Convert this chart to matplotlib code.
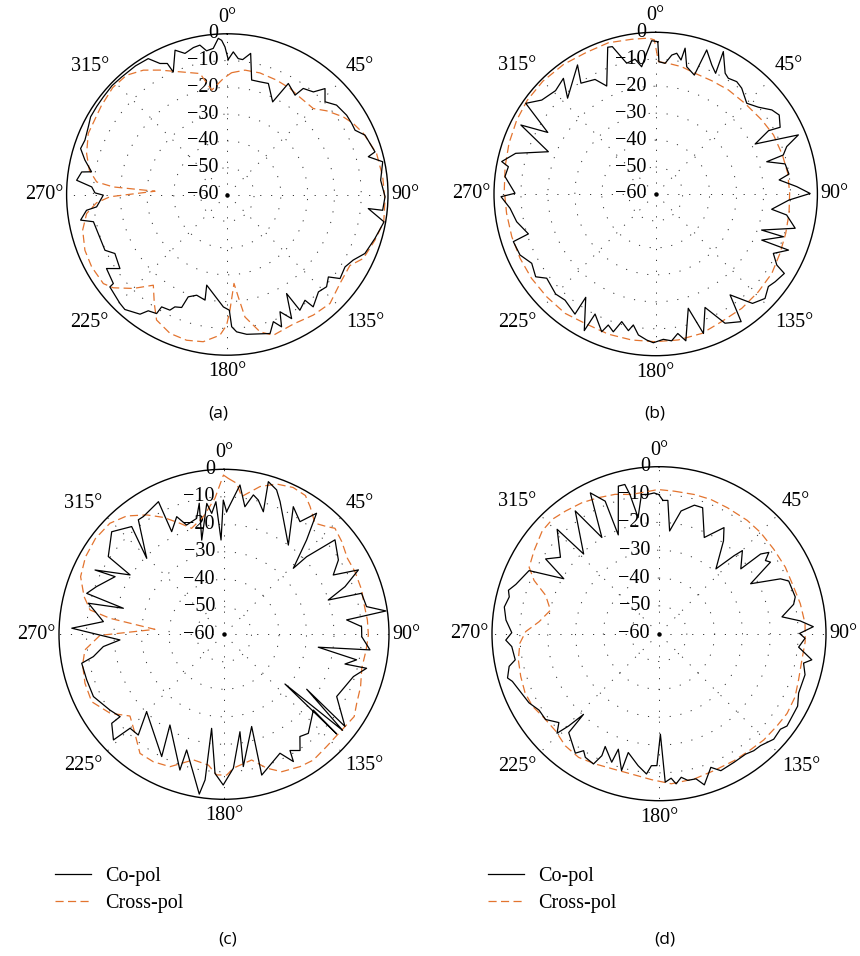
import numpy as np
import matplotlib
matplotlib.use("Agg")
import matplotlib.pyplot as plt

W, H = 860, 956
plt.rcParams["font.family"] = ["Liberation Serif", "DejaVu Serif"]

CO_COLOR = "black"
X_COLOR = "#e3742f"
FS = 14.5

RINGS = [-50, -40, -30, -20, -10]
R_LABELS = [0, -10, -20, -30, -40, -50, -60]
SPOKES = [0, 45, 90, 135, 180, 225, 270, 315]
ANGLE_LABELS = [0, 45, 90, 135, 180, 225, 270, 315]

# (angle in degrees, level in dB)
a_co = [(0.4, -9.6), (2.4, -6.7), (4.6, -9.1), (6.5, -9.3), (9.4, -6.6), (12.0, -16.3),
        (16.2, -16.2), (20.3, -15.8), (26.1, -21.5), (28.8, -12.7), (34.3, -15.1),
        (35.6, -11.3), (40.0, -10.0), (42.7, -6.2), (46.5, -9.7), (50.7, -7.3), (56.4, -6.5),
        (60.3, -6.5), (63.3, -6.6), (66.7, -4.0), (73.9, -2.6), (75.0, -5.5), (78.1, -0.7),
        (84.7, -2.5), (90.8, -1.1), (95.8, -1.7), (95.7, -7.1), (99.9, -0.6), (106.6, -2.5),
        (113.2, -4.1), (117.5, -7.0), (121.6, -8.4), (126.7, -7.5), (129.2, -11.3),
        (132.9, -9.4), (136.9, -10.2), (142.6, -7.2), (143.7, -11.0), (147.9, -9.0),
        (149.1, -16.9), (152.6, -7.8), (155.8, -12.0), (157.7, -6.6), (160.1, -9.5),
        (162.9, -5.7), (172.1, -7.3), (176.1, -8.6), (178.1, -10.6), (179.0, -16.8),
        (182.0, -18.0), (192.8, -25.3), (191.9, -19.7), (196.9, -20.7), (200.9, -19.1),
        (202.0, -14.5), (205.0, -13.7), (206.4, -11.8), (210.3, -11.4), (210.7, -8.3),
        (214.2, -7.5), (216.1, -4.7), (221.7, -2.5), (224.6, -2.9), (231.8, -4.2),
        (232.0, -6.0), (238.5, -7.1), (235.4, -11.3), (242.3, -12.6), (245.5, -9.8),
        (258.5, -9.0), (260.1, -4.4), (263.6, -7.1), (264.6, -11.0), (269.7, -13.7),
        (270.7, -10.6), (273.2, -9.3), (275.4, -3.5), (278.8, -5.0), (279.5, -8.6),
        (283.6, -5.3), (287.4, -2.6), (290.9, -3.1), (295.9, -2.3), (299.6, -1.3),
        (304.1, -1.2), (308.2, -1.1), (313.4, -0.8), (318.0, -1.0), (324.5, -1.0),
        (329.8, -1.3), (332.8, -5.0), (335.4, -6.2), (336.2, -10.0), (340.1, -2.7),
        (343.3, -5.0), (347.0, -3.7), (349.6, -3.3), (351.8, -5.8), (354.5, -5.2),
        (356.7, -1.6), (357.9, -2.4), (359.1, -4.9)]

a_cross = [(2.0, -14.5), (8.1, -13.1), (15.0, -13.0), (23.3, -13.5), (30.6, -14.0),
           (36.8, -14.7), (45.0, -14.6), (49.9, -11.5), (56.2, -7.9), (60.6, -6.0),
           (65.8, -4.3), (74.6, -2.2), (83.5, -1.6), (92.1, -1.1), (99.9, -0.7),
           (107.2, -2.3), (115.2, -3.9), (120.1, -7.1), (128.3, -6.4), (136.7, -4.1),
           (144.5, -4.7), (153.0, -5.7), (161.9, -4.7), (166.6, -7.3), (171.8, -13.8),
           (173.9, -21.6), (175.7, -26.7), (178.7, -16.8), (180.3, -11.2), (183.0, -7.4),
           (189.3, -4.3), (195.6, -3.5), (202.4, -3.9), (209.4, -6.2), (213.8, -11.0),
           (219.2, -16.3), (225.0, -10.4), (230.7, -5.0), (234.3, -3.0), (241.9, -2.6),
           (248.6, -2.9), (256.2, -4.4), (262.3, -7.0), (266.4, -11.1), (268.9, -16.2),
           (272.6, -33.0), (273.8, -17.3), (275.5, -11.0), (280.0, -7.7), (286.2, -5.3),
           (293.7, -3.3), (305.0, -2.5), (313.0, -1.5), (319.8, -1.7), (326.0, -4.0),
           (331.6, -7.2), (347.3, -13.7), (351.5, -20.6), (358.0, -16.7)]

b_co = [(0.8, -3.5), (1.4, -10.9), (4.1, -11.4), (6.6, -8.1), (8.5, -7.2), (10.7, -9.4),
        (11.4, -4.8), (13.7, -11.4), (18.0, -13.6), (19.5, -3.3), (23.5, -7.8), (26.4, -10.0),
        (25.4, -1.5), (29.9, -8.3), (32.1, -9.3), (35.8, -8.6), (39.1, -9.4), (45.1, -12.3),
        (49.8, -10.1), (54.1, -6.8), (57.4, -5.6), (61.8, -7.6), (60.7, -12.0), (63.3, -18.7),
        (67.5, -2.7), (70.1, -8.3), (73.0, -10.5), (73.8, -17.1), (76.9, -10.7), (81.5, -10.0),
        (83.5, -13.9), (87.0, -7.6), (89.8, -2.7), (92.6, -10.5), (97.5, -16.6), (99.1, -10.8),
        (103.8, -6.7), (108.8, -18.5), (108.5, -10.0), (113.5, -17.1), (112.9, -6.5),
        (116.8, -11.1), (120.4, -7.9), (121.7, -3.9), (126.3, -5.0), (129.4, -5.9),
        (133.7, -3.9), (138.5, -5.8), (143.6, -13.5), (146.2, -3.0), (151.8, -5.6),
        (156.5, -14.1), (161.1, -5.3), (164.1, -15.9), (168.4, -4.4), (171.0, -7.6),
        (173.8, -5.2), (177.0, -6.0), (180.9, -4.8), (183.5, -5.7), (187.0, -7.3),
        (189.7, -10.7), (191.3, -8.3), (194.9, -11.0), (197.1, -6.5), (199.9, -8.3),
        (201.4, -5.1), (206.8, -10.1), (207.6, -2.8), (214.1, -13.7), (213.9, -6.3),
        (220.5, -8.2), (225.0, -7.5), (232.3, -8.9), (235.4, -5.9), (240.8, -7.3),
        (245.8, -4.8), (251.5, -4.3), (252.6, -10.5), (258.7, -7.4), (264.4, -5.7),
        (269.0, -2.6), (270.3, -7.8), (276.6, -3.7), (280.5, -4.4), (281.9, -1.6),
        (286.2, -5.9), (291.5, -17.2), (297.1, -3.8), (299.7, -13.9), (304.9, -1.2),
        (309.5, -5.2), (315.9, -6.6), (321.4, -5.1), (317.4, -11.7), (328.8, -4.0),
        (326.0, -10.4), (332.1, -11.9), (335.6, -16.0), (341.9, -2.7), (343.6, -3.0),
        (347.5, -10.3), (351.3, -9.4), (353.7, -12.5), (356.3, -7.7), (358.5, -3.1)]

b_cross = [(1.2, -10.9), (5.5, -11.3), (11.5, -11.8), (18.1, -12.9), (26.3, -13.1),
           (34.9, -12.9), (44.6, -12.8), (55.1, -12.0), (63.4, -11.1), (72.9, -10.8),
           (81.1, -10.4), (89.7, -10.3), (98.3, -10.0), (106.8, -9.6), (115.5, -8.9),
           (124.4, -7.8), (133.6, -7.4), (143.0, -6.9), (152.7, -6.7), (161.7, -5.5),
           (171.2, -5.2), (180.3, -5.2), (189.3, -5.1), (198.7, -5.1), (208.6, -5.3),
           (217.2, -4.4), (226.7, -4.4), (235.8, -4.3), (244.6, -4.3), (253.5, -4.3),
           (262.6, -4.2), (271.5, -3.8), (280.3, -3.2), (289.1, -2.4), (298.0, -1.6),
           (306.1, -1.0), (315.0, -0.8), (324.6, -1.0), (333.9, -1.5), (342.6, -1.2),
           (351.2, -1.9), (357.3, -2.1), (359.5, -2.8)]

c_co = [(1.2, -15.4), (6.1, -5.4), (9.3, -13.0), (11.9, -8.2), (14.3, -9.6), (17.8, -13.2),
        (16.2, -2.2), (20.0, -4.1), (22.9, -7.6), (35.8, -20.0), (28.5, -7.2), (34.0, -10.6),
        (37.4, -4.6), (41.2, -14.4), (46.4, -25.2), (46.8, -18.8), (49.6, -7.0), (57.0, -10.4),
        (61.5, -14.8), (64.4, -5.8), (68.5, -12.7), (71.8, -20.1), (73.4, -7.8), (79.0, -7.2),
        (81.8, -0.5), (83.3, -15.1), (86.8, -9.9), (91.0, -9.9), (96.1, -6.6), (97.8, -25.4),
        (100.9, -10.9), (103.8, -14.7), (103.4, -6.7), (108.1, -10.5), (118.9, -13.2),
        (127.3, -4.7), (123.6, -23.9), (129.0, -4.5), (129.2, -31.4), (131.5, -5.3),
        (130.3, -17.4), (139.6, -12.7), (143.4, -13.7), (146.8, -9.5), (150.4, -11.4),
        (151.4, -7.3), (154.8, -12.2), (165.0, -7.0), (163.3, -25.0), (171.7, -11.4),
        (170.7, -24.1), (176.0, -11.2), (180.3, -5.2), (183.7, -9.3), (187.5, -25.5),
        (187.4, -6.6), (188.8, -1.2), (192.4, -8.2), (197.9, -15.8), (198.0, -8.1),
        (210.8, -21.6), (207.0, -10.1), (225.0, -20.2), (220.4, -11.9), (225.0, -11.7),
        (226.3, -4.4), (231.6, -7.9), (231.6, -11.8), (236.4, -10.2), (244.5, -7.4),
        (251.6, -7.4), (258.5, -7.2), (260.3, -11.8), (264.2, -15.9), (266.9, -22.1),
        (272.3, -4.6), (276.0, -15.9), (282.9, -9.4), (284.5, -22.2), (286.6, -7.9),
        (290.5, -10.5), (297.9, -15.2), (296.5, -7.6), (302.3, -19.6), (303.9, -9.3),
        (312.4, -4.7), (319.4, -8.4), (314.5, -20.6), (323.2, -8.0), (325.6, -8.1),
        (333.7, -6.2), (333.0, -18.1), (338.1, -13.9), (341.1, -18.0), (346.7, -16.7),
        (349.3, -11.5), (346.7, -24.8), (352.5, -12.0), (354.2, -15.8), (356.5, -11.7),
        (358.2, -25.7), (359.7, -11.2)]

c_cross = [(1.6, -3.3), (4.8, -4.9), (7.3, -9.5), (13.7, -4.7), (19.3, -2.1), (25.2, -1.0),
           (30.4, -1.5), (34.0, -4.0), (39.3, -7.8), (43.6, -5.9), (46.3, -4.2), (51.8, -5.5),
           (58.4, -7.3), (64.4, -7.2), (72.2, -7.4), (77.5, -7.9), (84.3, -7.6), (90.3, -7.5),
           (96.3, -8.0), (103.9, -8.4), (111.0, -6.8), (117.5, -5.6), (122.3, -4.0),
           (129.1, -4.8), (137.6, -4.7), (144.6, -3.9), (150.1, -4.5), (157.2, -5.8),
           (162.3, -8.9), (167.6, -13.2), (176.0, -11.2), (178.9, -8.8), (183.0, -8.8),
           (186.8, -12.1), (193.7, -13.0), (202.2, -8.0), (209.0, -7.0), (215.2, -7.0),
           (223.2, -12.2), (229.0, -14.7), (235.3, -9.6), (243.0, -6.0), (250.6, -6.4),
           (257.8, -7.4), (263.6, -9.1), (269.5, -14.9), (274.1, -34.8), (278.0, -18.1),
           (280.3, -10.5), (285.1, -7.3), (291.9, -3.8), (299.2, -2.3), (306.7, -1.7),
           (314.2, -2.1), (320.6, -4.3), (327.1, -8.3), (332.6, -12.1), (338.4, -16.6),
           (343.0, -19.7), (350.0, -16.6), (356.2, -10.4), (359.8, -2.1)]

d_co = [(1.7, -12.1), (3.8, -12.0), (5.9, -22.9), (10.2, -15.2), (15.4, -12.1), (19.1, -12.1),
        (25.2, -21.8), (31.5, -15.3), (34.8, -19.4), (41.3, -29.0), (43.9, -21.1),
        (45.1, -17.7), (51.6, -22.5), (51.9, -13.6), (53.5, -10.9), (55.5, -13.6),
        (57.3, -12.4), (61.4, -22.5), (65.7, -12.1), (67.9, -9.7), (74.9, -9.3), (77.7, -10.5),
        (82.2, -15.4), (84.8, -9.1), (87.4, -4.5), (89.9, -9.5), (91.8, -7.5), (95.5, -9.6),
        (99.7, -4.3), (101.5, -7.0), (105.7, -5.5), (113.0, -5.5), (117.6, -3.8),
        (125.8, -3.3), (128.2, -4.5), (132.6, -4.0), (137.8, -5.7), (141.0, -5.9),
        (144.3, -6.7), (149.7, -6.5), (155.7, -6.0), (158.8, -8.5), (163.3, -3.3),
        (165.7, -6.2), (168.9, -6.3), (171.2, -7.8), (173.5, -5.7), (175.2, -7.9),
        (177.6, -6.6), (179.2, -23.9), (180.9, -12.6), (183.3, -12.5), (185.1, -9.4),
        (189.0, -12.0), (194.5, -15.9), (195.3, -9.0), (199.4, -16.0), (200.2, -10.8),
        (205.5, -15.1), (205.1, -11.6), (206.7, -7.6), (210.8, -8.3), (212.8, -10.0),
        (215.0, -7.6), (222.4, -11.9), (223.1, -20.3), (224.4, -13.6), (225.7, -8.8),
        (228.4, -11.9), (232.9, -8.9), (237.5, -8.9), (242.0, -7.1), (252.0, -4.6),
        (253.7, -3.3), (257.7, -4.9), (259.7, -7.5), (265.0, -6.9), (267.6, -4.9),
        (270.4, -7.1), (275.1, -4.8), (279.8, -3.6), (283.8, -4.6), (286.1, -3.7),
        (289.0, -5.6), (295.9, -8.1), (300.0, -20.5), (303.4, -11.2), (307.8, -15.2),
        (315.7, -7.6), (316.6, -20.6), (325.7, -6.6), (329.3, -19.8), (334.0, -3.7),
        (337.9, -8.6), (337.6, -21.6), (344.6, -5.0), (347.1, -5.0), (348.2, -8.9),
        (349.8, -17.6), (352.8, -9.6), (355.5, -9.8), (358.0, -9.4), (359.9, -10.0)]

d_cross = [(6.2, -8.5), (14.3, -8.4), (21.1, -8.3), (28.5, -8.5), (37.9, -8.4), (45.1, -8.5),
           (53.6, -8.8), (62.2, -8.7), (70.9, -8.8), (78.0, -8.1), (86.0, -7.4), (93.1, -7.4),
           (100.4, -7.8), (108.2, -7.2), (114.9, -6.1), (121.9, -5.8), (128.0, -6.2),
           (135.4, -6.4), (141.7, -6.9), (149.4, -7.0), (158.0, -7.0), (166.3, -6.3),
           (175.3, -5.9), (183.0, -7.5), (189.7, -8.5), (197.9, -8.7), (206.1, -7.9),
           (213.0, -7.0), (219.9, -7.5), (226.8, -9.0), (233.9, -8.8), (240.2, -7.6),
           (246.2, -7.4), (252.8, -8.0), (259.5, -8.6), (266.1, -9.9), (270.9, -12.1),
           (275.7, -16.7), (282.2, -20.1), (288.7, -17.0), (293.1, -11.2), (297.1, -7.6),
           (303.6, -6.1), (311.4, -4.1), (317.0, -3.8), (322.7, -4.6), (329.5, -5.4),
           (336.0, -6.5), (342.5, -7.5), (348.8, -9.0), (354.9, -8.8), (359.6, -8.2)]

# panel centre and radius in pixels, caption and its position
PANELS = [
    ("(a)", 227.3, 194.5, 160.7, a_co, a_cross, 218, 413, False),
    ("(b)", 655.7, 194.0, 161.7, b_co, b_cross, 655, 413, False),
    ("(c)", 224.0, 634.3, 165.0, c_co, c_cross, 228, 940, True),
    ("(d)", 659.0, 633.7, 167.0, d_co, d_cross, 665, 940, True),
]


def closed(pattern):
    arr = np.array(pattern + pattern[:1], dtype=float)
    return np.deg2rad(arr[:, 0]), arr[:, 1]


def polar_panel(fig, cx, cy, r):
    ax = fig.add_axes([(cx - r) / W, 1 - (cy + r) / H, 2 * r / W, 2 * r / H],
                      projection="polar")
    ax.set_theta_zero_location("N")
    ax.set_theta_direction(-1)
    ax.set_ylim(-60, 0)
    ax.set_xticks([])
    ax.set_yticks([])
    ax.grid(False)
    ax.spines["polar"].set_linewidth(1.0)
    ax.spines["polar"].set_color("black")

    dots = dict(color="#333333", lw=0.7, ls=(0, (1.2, 10)), zorder=1)
    t = np.linspace(0, 2 * np.pi, 361)
    for ring in RINGS:
        ax.plot(t, np.full_like(t, ring), **dots)
    for deg in SPOKES:
        ax.plot([np.deg2rad(deg)] * 2, [-60, 0], **dots)
    ax.plot([0], [-60], "o", color="black", ms=2.2, zorder=3)

    for lvl in R_LABELS:
        lab = "0" if lvl == 0 else "\u2212%d" % abs(lvl)
        ax.annotate(lab, xy=(0, lvl), xytext=(-6.5, 0), textcoords="offset points",
                    ha="right", va="center", fontsize=FS, zorder=4,
                    annotation_clip=False)

    for deg in ANGLE_LABELS:
        th = np.deg2rad(deg)
        s, c = np.sin(th), np.cos(th)
        ha = "center" if abs(s) < 0.1 else ("left" if s > 0 else "right")
        va = "center" if abs(c) < 0.1 else ("bottom" if c > 0 else "top")
        gap = 2.5 if va == "center" else 5
        ax.annotate("%d\u00b0" % deg, xy=(th, 0), xytext=(gap * s, gap * c),
                    textcoords="offset points", ha=ha, va=va, fontsize=FS,
                    annotation_clip=False)
    return ax


fig = plt.figure(figsize=(W / 100, H / 100), dpi=100)

for caption, cx, cy, r, co, cross, tx, ty, legend in PANELS:
    ax = polar_panel(fig, cx, cy, r)
    th, db = closed(co)
    ax.plot(th, db, color=CO_COLOR, lw=0.9, zorder=5, label="Co-pol")
    th, db = closed(cross)
    ax.plot(th, db, color=X_COLOR, lw=0.9, ls=(0, (6.5, 3.5)), zorder=4,
            label="Cross-pol")

    fig.text(tx / W, 1 - ty / H, caption, ha="center", va="center", fontsize=12.5,
             family=["Open Sans", "DejaVu Sans"])

    if legend:
        ax.legend(loc="upper left",
                  bbox_to_anchor=((cx - r - 4) / W, 1 - 867 / H),
                  bbox_transform=fig.transFigure, frameon=False, fontsize=FS,
                  handlelength=1.8, handletextpad=0.7, labelspacing=0.4,
                  borderpad=0, borderaxespad=0)

fig.savefig("out.png", dpi=100)
